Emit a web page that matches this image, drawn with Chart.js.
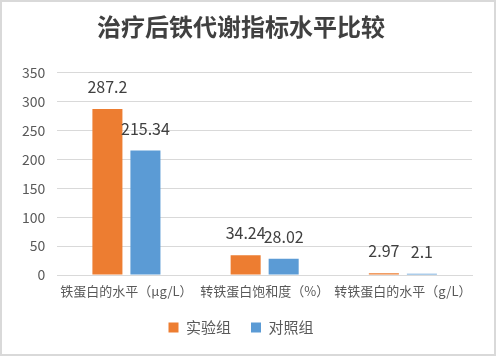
<!DOCTYPE html>
<html>
<head>
<meta charset="utf-8">
<script src="https://cdn.jsdelivr.net/npm/chart.js@4.4.1/dist/chart.umd.min.js"></script>
<style>
  html, body { margin: 0; padding: 0; background: #fff; }
  #wrap { width: 496px; height: 356px; box-sizing: border-box; border: 2px solid #d9d9d9; position: relative; }
  canvas { display: block; }
</style>
</head>
<body>
<div id="wrap"><canvas id="c" width="492" height="352"></canvas></div>
<script>
const categories = ['铁蛋白的水平（μg/L）', '转铁蛋白饱和度（%）', '转铁蛋白的水平（g/L）'];
const experimentValues = [287.2, 34.24, 2.97];
const controlValues = [215.34, 28.02, 2.1];
const seriesNames = ['实验组', '对照组'];
const yTicks = [0, 50, 100, 150, 200, 250, 300, 350];

const FONT = '"Noto Sans CJK SC", "Noto Sans", sans-serif';

// Value labels above each bar
const valueLabels = {
  id: 'valueLabels',
  afterDatasetsDraw(chart) {
    const ctx = chart.ctx;
    ctx.save();
    ctx.font = '16px ' + FONT;
    ctx.fillStyle = '#404040';
    ctx.textAlign = 'center';
    ctx.textBaseline = 'bottom';
    chart.data.datasets.forEach((ds, i) => {
      chart.getDatasetMeta(i).data.forEach((bar, j) => {
        ctx.fillText(String(ds.data[j]), bar.x, bar.y - 14);
      });
    });
    ctx.restore();
  }
};

new Chart(document.getElementById('c'), {
  type: 'bar',
  data: {
    labels: categories,
    datasets: [
      { label: seriesNames[0], data: experimentValues, backgroundColor: '#ed7d31',
        categoryPercentage: 0.55, barPercentage: 0.79 },
      { label: seriesNames[1], data: controlValues, backgroundColor: '#5b9bd5',
        categoryPercentage: 0.55, barPercentage: 0.79 }
    ]
  },
  options: {
    responsive: false,
    animation: false,
    layout: { padding: { left: 8, right: 22, top: 4, bottom: 9 } },
    plugins: {
      title: {
        display: true,
        text: '治疗后铁代谢指标水平比较',
        color: '#404040',
        font: { family: FONT, size: 24, weight: 'bold' },
        padding: { top: 6, bottom: 32 }
      },
      legend: {
        position: 'bottom',
        labels: {
          color: '#595959',
          font: { family: FONT, size: 15 },
          boxWidth: 10, boxHeight: 10, padding: 20
        }
      },
      tooltip: { enabled: false }
    },
    scales: {
      x: {
        grid: { display: false },
        border: { color: '#d9d9d9', width: 1 },
        ticks: { color: '#595959', font: { family: FONT, size: 13, lineHeight: 1 }, maxRotation: 0, autoSkip: false, padding: 2 }
      },
      y: {
        min: 0, max: 350,
        afterBuildTicks(axis) { axis.ticks = yTicks.map(v => ({ value: v })); },
        grid: { color: '#d9d9d9', drawTicks: false },
        border: { display: false },
        ticks: { color: '#595959', font: { family: FONT, size: 14 }, padding: 12 }
      }
    }
  },
  plugins: [valueLabels]
});
</script>
</body>
</html>
